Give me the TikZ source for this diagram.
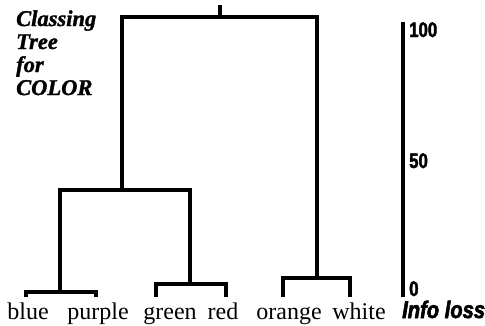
\documentclass[tikz,border=0pt]{standalone}
\usepackage{fontspec}
\setmainfont{Liberation Serif}
\newfontfamily\titlefont[FakeBold=1.5]{Liberation Serif Bold Italic}
\newfontfamily\axisfont[FakeStretch=0.8,FakeBold=2]{Liberation Sans Bold}
\newfontfamily\axislabelfont[FakeStretch=0.84,FakeBold=2.5]{Liberation Sans Bold Italic}
\begin{document}
\begin{tikzpicture}[x=1pt,y=-1pt,
    branch/.style={line width=3.4pt,line join=miter},
    leaflabel/.style={anchor=base,inner sep=0pt,font=\fontsize{24}{26}\selectfont},
    titleline/.style={anchor=base west,inner sep=0pt,font=\fontsize{22.5}{24}\selectfont\titlefont},
    tickval/.style={anchor=base west,inner sep=0pt,font=\fontsize{21}{22}\selectfont\axisfont}]
\useasboundingbox (0,0) rectangle (485,325);

% title
\node[titleline] (t1) at (16,26) {Classing};
\node[titleline] (t2) at (16,49) {Tree};
\node[titleline] (t3) at (16,72) {for};
\node[titleline] (t4) at (16,95) {COLOR};

% leaf labels
\node[leaflabel] (lblue)   at (28,319)  {blue};
\node[leaflabel] (lpurple) at (98,319)  {purple};
\node[leaflabel] (lgreen)  at (170,319) {green};
\node[leaflabel] (lred)    at (223,319) {red};
\node[leaflabel] (lorange) at (289,319) {orange};
\node[leaflabel] (lwhite)  at (359,319) {white};

% leaf ends of the branches
\coordinate (b) at (26,297);
\coordinate (p) at (96,297);
\coordinate (g) at (156,297);
\coordinate (r) at (226,297);
\coordinate (o) at (283,297);
\coordinate (w) at (350,297);

% merge points (height = information loss)
\coordinate (mbp) at (60,292);
\coordinate (mgr) at (190,284);
\coordinate (mow) at (317,278);
\coordinate (mleft) at (122,190);
\coordinate (mroot) at (220,17);
\coordinate (top) at (220,5);

\draw[branch] (b) |- (mbp) -| (p);
\draw[branch] (g) |- (mgr) -| (r);
\draw[branch] (o) |- (mow) -| (w);
\draw[branch] (mbp) |- (mleft) -| (mgr);
\draw[branch] (mleft) |- (mroot) -| (mow);
\draw[branch] (mroot) -- (top);

% information-loss scale
\coordinate (a100) at (403,22);
\coordinate (a0) at (403,297);
\draw[line width=3.4pt] (a100) -- (a0);
\node[tickval] (v100) at (409,37) {100};
\node[tickval] (v50) at (409,168) {50};
\node[tickval] (v0) at (409,296) {0};
\node[anchor=base west,inner sep=0pt,font=\fontsize{24}{26}\selectfont\axislabelfont] (loss) at (402,318) {Info loss};
\end{tikzpicture}
\end{document}
